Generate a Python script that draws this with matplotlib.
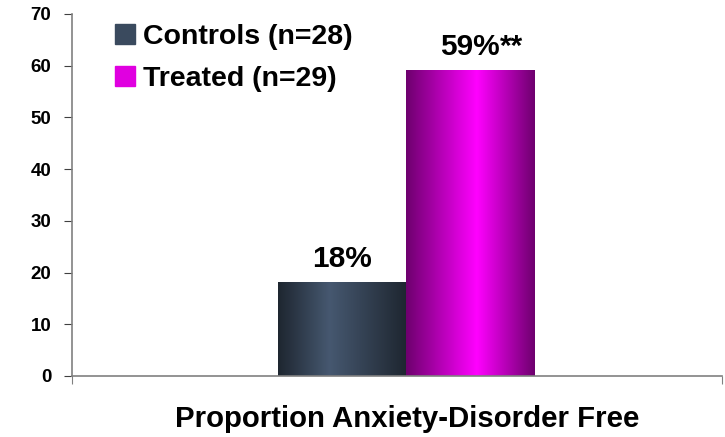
import matplotlib.pyplot as plt
import numpy as np
from matplotlib.colors import LinearSegmentedColormap
from matplotlib.lines import Line2D

groups = ['Controls (n=28)', 'Treated (n=29)']
values = [18, 59]
labels = ['18%', '59%']
marks = ['', '**']
xlabel = 'Proportion Anxiety-Disorder Free'
yticks = [0, 10, 20, 30, 40, 50, 60, 70]

plt.rcParams['font.family'] = ['Liberation Sans', 'DejaVu Sans']
plt.rcParams['font.weight'] = 'bold'

fig = plt.figure(figsize=(7.25, 4.37), dpi=100)
ax = fig.add_axes([0.0993, 0.1396, 0.8966, 0.8284])

cmaps = [
    LinearSegmentedColormap.from_list('ctl', [(0, '#1e2630'), (0.4, '#465870'), (1, '#1e2630')]),
    LinearSegmentedColormap.from_list('trt', [(0, '#6e006e'), (0.55, '#ff00ff'), (1, '#6e006e')]),
]
solid = ['#3a4a5e', '#e000e0']
lefts = [0.317, 0.514]
width = 0.197
grad = np.linspace(0, 1, 256).reshape(1, -1)

for i in range(len(values)):
    x0 = lefts[i]
    ax.imshow(grad, cmap=cmaps[i], aspect='auto',
              extent=[x0, x0 + width, 0, values[i]], zorder=2)
    t = ax.text(x0 + width / 2, values[i] + 3.1, labels[i], ha='center', va='baseline',
                fontsize=21.5, fontweight='bold')
    if marks[i]:
        ax.annotate(marks[i], xy=(1, 0), xycoords=t, ha='left', va='bottom',
                    fontsize=21.5, fontweight='bold')

ax.set_xlim(0, 1)
ax.set_ylim(0, 70)
ax.set_yticks(yticks)
ax.set_xticks([0, 1])
ax.set_xticklabels(['', ''])
ax.tick_params(axis='y', direction='out', length=6, color='#404040', labelsize=13.5, pad=9)
ax.tick_params(axis='x', direction='out', length=6, color='#808080')
for t in ax.get_yticklabels():
    t.set_fontweight('bold')
for s in ['top', 'right']:
    ax.spines[s].set_visible(False)
for s in ['left', 'bottom']:
    ax.spines[s].set_color('#808080')
    ax.spines[s].set_linewidth(1.2)

fig.text(407 / 725, 1 - 427 / 437, xlabel, ha='center', va='baseline',
         fontsize=21.2, fontweight='bold')

handles = [Line2D([], [], marker='s', linestyle='', markersize=13.7,
                  markerfacecolor=c, markeredgecolor=c) for c in solid]
ax.legend(handles, groups, loc='upper left', bbox_to_anchor=(0.022, 1.044),
          frameon=False, prop={'size': 20.5, 'weight': 'bold'},
          handletextpad=0.2, labelspacing=0.56, handlelength=0.9)

fig.savefig('out.png', dpi=100)
